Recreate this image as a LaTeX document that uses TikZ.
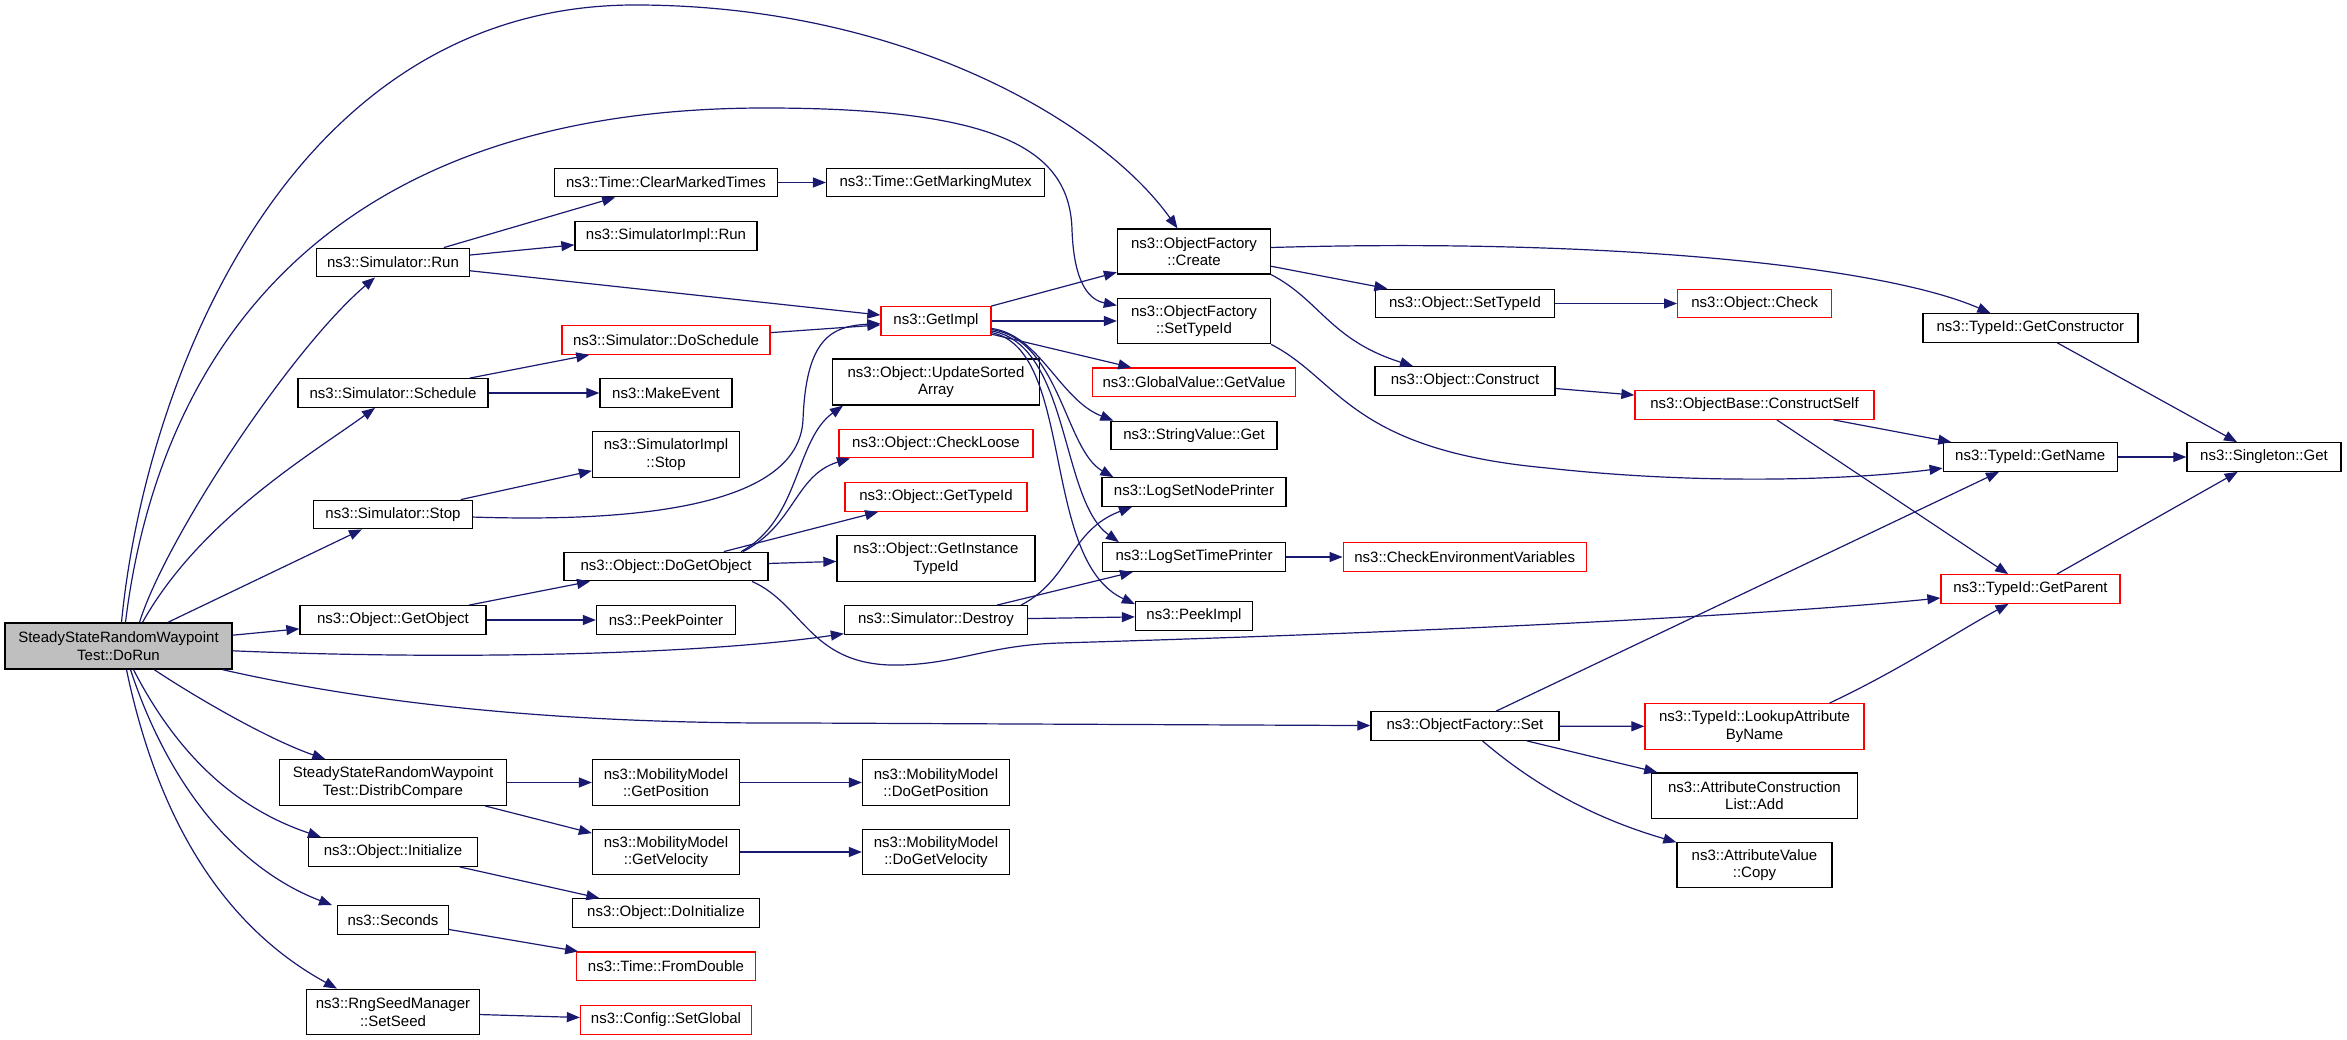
\documentclass[tikz,border=0pt]{standalone}
\usepackage{fontspec}
\setmainfont{Liberation Sans}
\usepackage{tikz}
\usetikzlibrary{arrows.meta, shapes}
\definecolor{edgeblue}{HTML}{191970}
\definecolor{rootgray}{HTML}{BFBFBF}
\tikzstyle{func} = [rectangle, draw=black, fill=white, line width=1.3pt, minimum height=28.5pt, inner sep=0pt, align=center, font=\fontsize{15}{17.7}\selectfont]
\tikzstyle{partial} = [func, draw=red]
\tikzstyle{root} = [func, fill=rootgray]
\tikzstyle{arrow} = [line width=1.2pt, draw=edgeblue, -{Triangle[length=13pt,width=10pt]}]

\begin{document}
\begin{tikzpicture}[x=1pt, y=-1pt]
\useasboundingbox (0,0) rectangle (2347,1040);

\node (dorun) [root, minimum width=227pt, minimum height=46pt] at (118.5,646) {SteadyStateRandomWaypoint\\Test::DoRun};

\node (simrun) [func, minimum width=153pt] at (393,262.5) {ns3::Simulator::Run};
\node (simschedule) [func, minimum width=190pt] at (393,393) {ns3::Simulator::Schedule};
\node (simstop) [func, minimum width=159pt] at (393,514.5) {ns3::Simulator::Stop};
\node (getobject) [func, minimum width=186pt] at (393,620) {ns3::Object::GetObject};
\node (distrib) [func, minimum width=227pt, minimum height=45.5pt] at (393,782.5) {SteadyStateRandomWaypoint\\Test::DistribCompare};
\node (initialize) [func, minimum width=169pt] at (393,852) {ns3::Object::Initialize};
\node (seconds) [func, minimum width=111pt] at (393,920) {ns3::Seconds};
\node (setseed) [func, minimum width=173pt, minimum height=45.5pt] at (393,1012) {ns3::RngSeedManager\\::SetSeed};

\node (clearmarked) [func, minimum width=223pt] at (666,182.5) {ns3::Time::ClearMarkedTimes};
\node (implrun) [func, minimum width=182pt] at (666,236) {ns3::SimulatorImpl::Run};
\node (doschedule) [partial, minimum width=208pt] at (666,340) {ns3::Simulator::DoSchedule};
\node (makeevent) [func, minimum width=132pt] at (666,393) {ns3::MakeEvent};
\node (implstop) [func, minimum width=147pt, minimum height=45.5pt] at (666,454.5) {ns3::SimulatorImpl\\::Stop};
\node (dogetobject) [func, minimum width=204pt] at (666,566.5) {ns3::Object::DoGetObject};
\node (peekpointer) [func, minimum width=139pt] at (666,620) {ns3::PeekPointer};
\node (getposition) [func, minimum width=147pt, minimum height=45.5pt] at (666,782.5) {ns3::MobilityModel\\::GetPosition};
\node (getvelocity) [func, minimum width=147pt, minimum height=45.5pt] at (666,852) {ns3::MobilityModel\\::GetVelocity};
\node (doinitialize) [func, minimum width=187pt] at (666,913) {ns3::Object::DoInitialize};
\node (fromdouble) [partial, minimum width=179pt] at (666,966.3) {ns3::Time::FromDouble};
\node (setglobal) [partial, minimum width=171pt] at (666,1020) {ns3::Config::SetGlobal};

\node (markingmutex) [func, minimum width=218pt] at (935.6,182.5) {ns3::Time::GetMarkingMutex};
\node (getimpl) [partial, minimum width=110pt] at (936,321) {ns3::GetImpl};
\node (updatesorted) [func, minimum width=206.5pt, minimum height=46pt] at (936,382) {ns3::Object::UpdateSorted\\Array};
\node (checkloose) [partial, minimum width=194pt] at (936,443.5) {ns3::Object::CheckLoose};
\node (gettypeid) [partial, minimum width=182pt] at (936,497) {ns3::Object::GetTypeId};
\node (getinstance) [func, minimum width=198pt, minimum height=45.5pt] at (936,558.5) {ns3::Object::GetInstance\\TypeId};
\node (simdestroy) [func, minimum width=183pt] at (936,620) {ns3::Simulator::Destroy};
\node (dogetposition) [func, minimum width=147pt, minimum height=45.5pt] at (936,782.5) {ns3::MobilityModel\\::DoGetPosition};
\node (dogetvelocity) [func, minimum width=147pt, minimum height=45.5pt] at (936,852) {ns3::MobilityModel\\::DoGetVelocity};

\node (factcreate) [func, minimum width=153pt, minimum height=45pt] at (1194,251.5) {ns3::ObjectFactory\\::Create};
\node (factsettypeid) [func, minimum width=153pt, minimum height=45.5pt] at (1194,321) {ns3::ObjectFactory\\::SetTypeId};
\node (getvalue) [partial, minimum width=203pt] at (1194,382.3) {ns3::GlobalValue::GetValue};
\node (stringget) [func, minimum width=166pt] at (1194,435.5) {ns3::StringValue::Get};
\node (nodeprinter) [func, minimum width=184pt] at (1194,492) {ns3::LogSetNodePrinter};
\node (timeprinter) [func, minimum width=183pt] at (1194,557) {ns3::LogSetTimePrinter};
\node (peekimpl) [func, minimum width=117pt] at (1194,616) {ns3::PeekImpl};

\node (objsettypeid) [func, minimum width=179pt] at (1465,303.5) {ns3::Object::SetTypeId};
\node (construct) [func, minimum width=180pt] at (1465,381) {ns3::Object::Construct};
\node (checkenv) [partial, minimum width=243pt] at (1464.7,557) {ns3::CheckEnvironmentVariables};
\node (factset) [func, minimum width=188pt] at (1465,726) {ns3::ObjectFactory::Set};

\node (objcheck) [partial, minimum width=154pt] at (1754.7,303.5) {ns3::Object::Check};
\node (constructself) [partial, minimum width=239pt] at (1754.5,405) {ns3::ObjectBase::ConstructSelf};
\node (lookup) [partial, minimum width=219pt, minimum height=45.5pt] at (1754.5,726.5) {ns3::TypeId::LookupAttribute\\ByName};
\node (attrlistadd) [func, minimum width=206pt, minimum height=45.5pt] at (1754.4,795.7) {ns3::AttributeConstruction\\List::Add};
\node (attrcopy) [func, minimum width=155pt, minimum height=45.5pt] at (1754.5,865) {ns3::AttributeValue\\::Copy};

\node (getconstructor) [func, minimum width=215pt] at (2030.4,328) {ns3::TypeId::GetConstructor};
\node (getname) [func, minimum width=174pt] at (2030.2,457) {ns3::TypeId::GetName};
\node (getparent) [partial, minimum width=179pt] at (2030.5,589) {ns3::TypeId::GetParent};
\node (singleton) [func, minimum width=154pt] at (2264,457) {ns3::Singleton::Get};

\draw [arrow] ([xshift=3pt]dorun.north) .. controls (145,380) and (290,5) .. (635,5) .. controls (900,5) and (1100,120) .. (factcreate);
\draw [arrow] ([xshift=7pt]dorun.north) .. controls (155,380) and (300,108) .. (765,108) .. controls (1000,108) and (1070,150) .. (1072,230) .. controls (1074,285) and (1090,300) .. (factsettypeid);
\draw [arrow] ([xshift=21pt]dorun.north) .. controls (165,540) and (290,350) .. ([xshift=-18pt]simrun.south);
\draw [arrow] ([xshift=24pt]dorun.north) .. controls (200,520) and (310,455) .. ([xshift=-18pt]simschedule.south);
\draw [arrow] (dorun) -- (simstop);
\draw [arrow] (dorun) -- (getobject);
\draw [arrow] (dorun) .. controls (450,660) and (700,655) .. (simdestroy);
\draw [arrow] (dorun) .. controls (400,710) and (600,724) .. (800,723) -- (factset);
\draw [arrow] (dorun) .. controls (200,700) and (270,740) .. (distrib);
\draw [arrow] ([xshift=15pt]dorun.south) .. controls (180,760) and (240,810) .. ([xshift=-72pt]initialize.north);
\draw [arrow] ([xshift=12pt]dorun.south) .. controls (170,790) and (240,870) .. ([xshift=-61pt]seconds.north);
\draw [arrow] ([xshift=8pt]dorun.south) .. controls (160,830) and (230,930) .. ([xshift=-56pt]setseed.north);

\draw [arrow] (simrun) -- (clearmarked);
\draw [arrow] (simrun) -- (implrun);
\draw [arrow] (simrun) -- (getimpl);
\draw [arrow] (simschedule) -- (doschedule);
\draw [arrow] (simschedule) -- (makeevent);
\draw [arrow] (simstop) -- (implstop);
\draw [arrow] (simstop) .. controls (720,525) and (800,480) .. (803,420) .. controls (806,340) and (830,326) .. (getimpl);
\draw [arrow] (getobject) -- (dogetobject);
\draw [arrow] (getobject) -- (peekpointer);
\draw [arrow] (distrib) -- (getposition);
\draw [arrow] (distrib) -- (getvelocity);
\draw [arrow] (initialize) -- (doinitialize);
\draw [arrow] (seconds) -- (fromdouble);
\draw [arrow] (setseed) -- (setglobal);

\draw [arrow] (clearmarked) -- (markingmutex);
\draw [arrow] (doschedule) -- (getimpl);
\draw [arrow] ([xshift=75pt]dogetobject.north) .. controls (800,520) and (795,440) .. ([xshift=-93pt]updatesorted.south);
\draw [arrow] ([xshift=77pt]dogetobject.north) .. controls (795,525) and (795,475) .. ([xshift=-86pt]checkloose.south);
\draw [arrow] (dogetobject) -- (gettypeid);
\draw [arrow] (dogetobject) -- (getinstance);
\draw [arrow] ([xshift=86pt]dogetobject.south) .. controls (805,605) and (810,668) .. (902,665) .. controls (960,663) and (990,645) .. (1060,643) .. controls (1500,630) and (1800,612) .. (getparent);
\draw [arrow] (getposition) -- (dogetposition);
\draw [arrow] (getvelocity) -- (dogetvelocity);

\draw [arrow] (getimpl) -- (factcreate);
\draw [arrow] (getimpl) -- (factsettypeid);
\draw [arrow] (getimpl) -- (getvalue);
\draw [arrow] (getimpl) .. controls (1040,335) and (1060,400) .. ([xshift=3pt]stringget.north west);
\draw [arrow] (getimpl) .. controls (1060,340) and (1065,450) .. ([xshift=12pt]nodeprinter.north west);
\draw [arrow] (getimpl) .. controls (1070,345) and (1060,500) .. ([xshift=17pt]timeprinter.north west);
\draw [arrow] (getimpl) .. controls (1075,350) and (1040,560) .. ([yshift=-3pt]peekimpl.north west);
\draw [arrow] ([xshift=85pt]simdestroy.north) .. controls (1070,580) and (1070,530) .. ([xshift=-62pt]nodeprinter.south);
\draw [arrow] (simdestroy) -- (timeprinter);
\draw [arrow] (simdestroy) -- (peekimpl);

\draw [arrow] (factcreate) -- (objsettypeid);
\draw [arrow] (factcreate.south east) .. controls (1320,300) and (1330,340) .. ([xshift=-52pt]construct.north);
\draw [arrow] ([yshift=4pt]factcreate.east) .. controls (1600,238) and (1880,265) .. ([xshift=-40pt]getconstructor.north);
\draw [arrow] (factsettypeid.south east) .. controls (1340,380) and (1350,450) .. (1547,468) .. controls (1700,485) and (1850,480) .. (getname);
\draw [arrow] (timeprinter) -- (checkenv);

\draw [arrow] (objsettypeid) -- (objcheck);
\draw [arrow] (construct) -- (constructself);
\draw [arrow] (factset) -- (lookup);
\draw [arrow] (factset) -- (attrlistadd);
\draw [arrow] (factset) .. controls (1540,790) and (1600,820) .. (attrcopy);
\draw [arrow] (factset) -- (getname);

\draw [arrow] (constructself) -- (getname);
\draw [arrow] (constructself) -- (getparent);
\draw [arrow] ([xshift=75pt]lookup.north) .. controls (1900,670) and (1960,630) .. ([xshift=-22pt]getparent.south);

\draw [arrow] (getconstructor) -- (singleton);
\draw [arrow] (getname) -- (singleton);
\draw [arrow] (getparent) -- (singleton);
\end{tikzpicture}
\end{document}
